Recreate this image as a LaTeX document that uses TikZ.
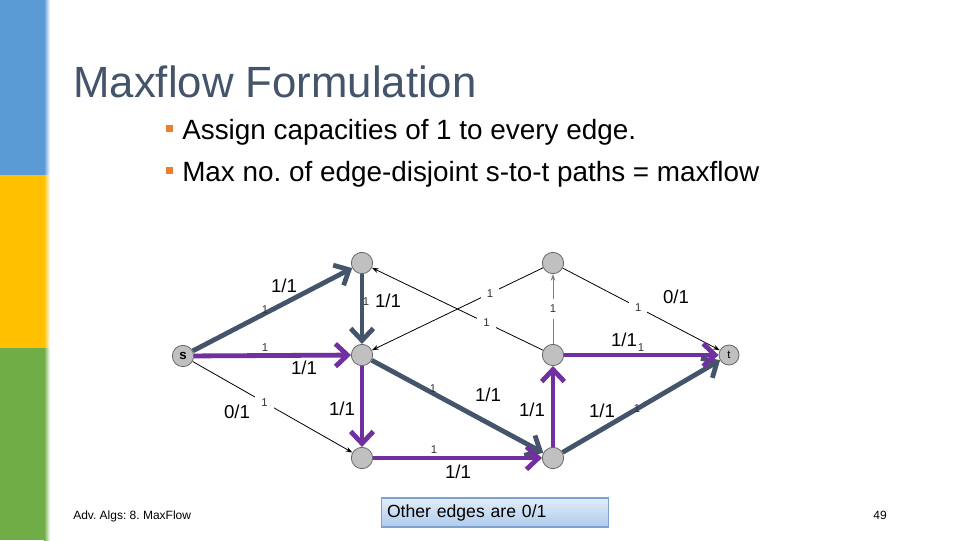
\documentclass[tikz,border=0pt]{standalone}
\usepackage{fontspec}
\setmainfont{Liberation Sans}
\usetikzlibrary{arrows.meta}
\frenchspacing
\definecolor{slate}{HTML}{44546A}
\definecolor{purp}{HTML}{7030A0}
\definecolor{barblue}{HTML}{5B9BD5}
\definecolor{baryel}{HTML}{FFC000}
\definecolor{bargreen}{HTML}{70AD47}
\definecolor{bulletor}{HTML}{ED7D31}
\definecolor{nodegray}{HTML}{C0C0C0}
\definecolor{boxtop}{HTML}{E2EDF9}
\definecolor{boxbot}{HTML}{AFCBEC}
\definecolor{boxline}{HTML}{7DA2D0}
\pgfdeclarelayer{back}
\pgfdeclarelayer{edges}
\pgfsetlayers{back,edges,main}
\begin{document}
\begin{tikzpicture}[x=0.75pt,y=-0.75pt,
  vtx/.style={circle,fill=nodegray,draw=black!60,line width=0.6pt,minimum size=16pt,inner sep=0pt,font=\fontsize{10}{10}\selectfont\bfseries},
  thickslate/.style={line width=3.6pt,draw=slate,-{Straight Barb[length=9pt,width=17pt]}},
  thickpurp/.style={line width=3.6pt,draw=purp,-{Straight Barb[length=9pt,width=17pt]}},
  thinarr/.style={line width=0.6pt,draw=black,-{Stealth[length=5pt,width=3.5pt]}},
  flow/.style={inner sep=0pt,font=\fontsize{14}{16}\selectfont},
  capmark/.style={inner sep=0pt,font=\fontsize{8.5}{9}\selectfont,text=black!80},
  gapcap/.style={capmark,fill=white,inner sep=4.5pt}
]
\useasboundingbox (0,0) rectangle (960,540);
\begin{pgfonlayer}{back}
  \fill[white] (0,0) rectangle (960,540);
  \fill[barblue] (0,0) rectangle (44,175);
  \shade[left color=barblue,right color=white] (44,0) rectangle (50,175);
  \fill[baryel] (0,175) rectangle (44,348);
  \shade[left color=baryel,right color=white] (44,175) rectangle (50,348);
  \fill[bargreen] (0,348) rectangle (44,540);
  \shade[left color=bargreen,right color=white] (44,348) rectangle (50,540);
\end{pgfonlayer}

% title and bullets
\node[anchor=base west,inner sep=0pt,text=slate,font=\fontsize{32.8}{36}\selectfont] (title) at (73,97) {Maxflow Formulation};
\node[fill=bulletor,minimum size=5.2pt,inner sep=0pt] (sq1) at (169.5,128.5) {};
\node[fill=bulletor,minimum size=5.2pt,inner sep=0pt] (sq2) at (169.5,170.5) {};
\node[anchor=base west,inner sep=0pt,font=\fontsize{20.9}{24}\selectfont] (b1) at (182,139) {Assign capacities of 1 to every edge.};
\node[anchor=base west,inner sep=0pt,font=\fontsize{20.9}{24}\selectfont] (b2) at (182,181) {Max no. of edge-disjoint s-to-t paths = maxflow};

% vertices
\node[vtx] (s) at (183,356) {s};
\node[vtx] (a) at (362,263) {};
\node[vtx] (b) at (553,263) {};
\node[vtx] (c) at (362,355) {};
\node[vtx] (d) at (553,355) {};
\node[vtx] (e) at (362,458) {};
\node[vtx] (f) at (553,458) {};
\node[vtx,minimum size=15pt,font=\fontsize{8.5}{8.5}\selectfont] (t) at (729,355) {t};

\begin{pgfonlayer}{edges}
  % thin edges (flow 0)
  \draw[thinarr] (s) -- node[gapcap,pos=0.45] (cse) {1} (e);
  \draw[thinarr] (d) -- node[gapcap,pos=0.33] (cda) {1} (a);
  \draw[thinarr] (b) -- node[gapcap,pos=0.31] (cbc) {1} (c);
  \draw[thinarr,draw=black!50] (d) -- node[gapcap,pos=0.5] (cdb) {1} (b);
  \draw[thinarr] (b) -- node[gapcap,pos=0.48] (cbt) {1} (t);
  % flow paths
  \draw[thickslate] (s) -- (a);
  \draw[thickslate] (a) -- (c);
  \draw[thickpurp] (s) -- (c);
  \draw[thickpurp] (c) -- (e);
  \draw[thickslate] (c) -- (f);
  \draw[thickpurp] (e) -- (f);
  \draw[thickpurp] (f) -- (d);
  \draw[thickslate] (f) -- (t);
  \draw[thickpurp] (d) -- (t);
\end{pgfonlayer}

% capacity marks on flow edges
\node[capmark] (csa) at (265,310) {1};
\node[capmark] (csc) at (265,348) {1};
\node[capmark] (cac) at (366,302) {1};
\node[capmark] (ccf) at (433,389) {1};
\node[capmark] (cef) at (434,450) {1};
\node[capmark] (cft) at (637,409) {1};
\node[capmark] (cdt) at (641,348) {1};

% flow labels
\node[flow] (lsa) at (284,286) {1/1};
\node[flow] (lac) at (388,301) {1/1};
\node[flow] (lsc) at (304,368) {1/1};
\node[flow] (lse) at (237,412) {0/1};
\node[flow] (lce) at (342,409) {1/1};
\node[flow] (lcf) at (488,395) {1/1};
\node[flow] (lfd) at (532,410) {1/1};
\node[flow] (lft) at (602,411) {1/1};
\node[flow] (lef) at (458,472) {1/1};
\node[flow] (ldt) at (624,340) {1/1};
\node[flow] (lbt) at (676,297) {0/1};

% note box
\node[anchor=west,draw=boxline,line width=1pt,top color=boxtop,bottom color=boxbot,
      minimum height=21.75pt,text width=162pt,inner xsep=4pt,align=left,
      font=\fontsize{13.2}{15}\selectfont] (other) at (381,512.5) {Other edges are 0/1};

% footer
\node[anchor=base west,inner sep=0pt,font=\fontsize{9}{10}\selectfont] (foot) at (73,519) {Adv. Algs: 8. MaxFlow};
\node[anchor=base,inner sep=0pt,font=\fontsize{9}{10}\selectfont] (pg) at (880,519) {49};
\end{tikzpicture}
\end{document}
